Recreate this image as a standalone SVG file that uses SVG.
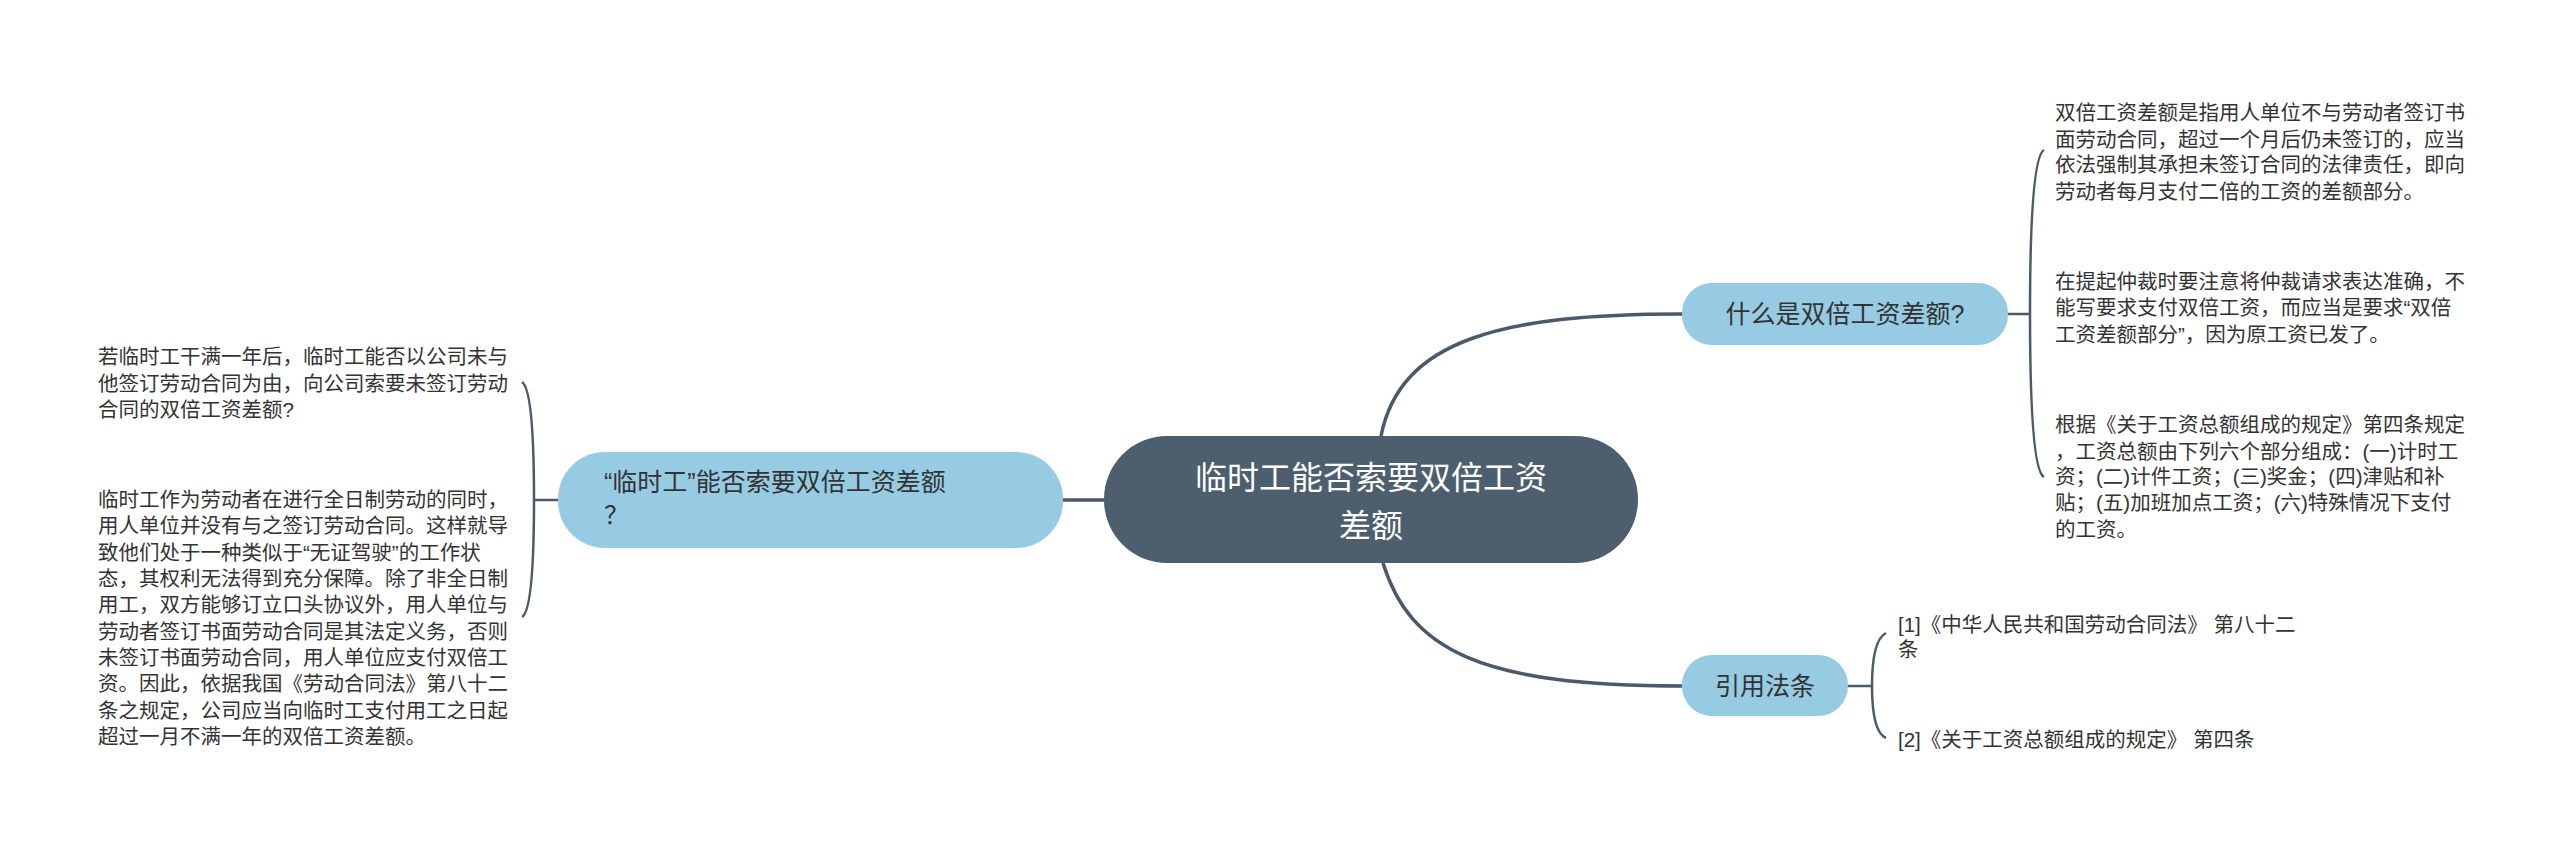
<svg xmlns="http://www.w3.org/2000/svg" width="2560" height="849" viewBox="0 0 2560 849">
<style>
.t{font-family:"Liberation Sans","Noto Sans CJK SC",sans-serif;font-size:20.5px;fill:#333}
.n{font-family:"Liberation Sans","Noto Sans CJK SC",sans-serif;font-size:25px;fill:#333}
.c{fill:none;stroke:#4b5a68;stroke-width:3.5}
.b{fill:none;stroke:#4b5a68;stroke-width:2.5}
.sub{fill:#96cbe3}
</style>
<rect width="2560" height="849" fill="#fff"/>
<g id="connectors">
<path class="c" d="M1104 500 H1062"/>
<path class="b" d="M558 500 H534 M534 500 Q534 390 522 382 M534 500 Q534 610 522 617"/>
<path class="c" d="M1381 436 C1400 340 1500 314 1682 314"/>
<path class="b" d="M2008 314 H2030 M2030 314 Q2030 158 2044 150 M2030 314 Q2030 470 2044 477"/>
<path class="c" d="M1383 563 C1410 650 1480 686 1682 686"/>
<path class="b" d="M1848 686 H1872 M1872 686 Q1872 640 1886 633 M1872 686 Q1872 732 1886 738"/>
</g>
<g id="root">
<rect x="1104" y="436" width="534" height="127" rx="63" fill="#4d5e6e"/>
<text x="1371" y="489" text-anchor="middle" style="font-family:'Liberation Sans','Noto Sans CJK SC',sans-serif;font-size:32px;fill:#fff">临时工能否索要双倍工资</text>
<text x="1371" y="537" text-anchor="middle" style="font-family:'Liberation Sans','Noto Sans CJK SC',sans-serif;font-size:32px;fill:#fff">差额</text>
</g>
<g id="left">
<rect class="sub" x="558" y="452" width="505" height="96" rx="47"/>
<text class="n" x="604" y="491">“临时工”能否索要双倍工资差额</text>
<text class="n" x="604" y="524">？</text>
</g>
<g id="left-t1">
<text class="t" x="98" y="364">若临时工干满一年后，临时工能否以公司未与</text>
<text class="t" x="98" y="391">他签订劳动合同为由，向公司索要未签订劳动</text>
<text class="t" x="98" y="417">合同的双倍工资差额?</text>
</g>
<g id="left-t2">
<text class="t" x="98" y="507">临时工作为劳动者在进行全日制劳动的同时，</text>
<text class="t" x="98" y="533">用人单位并没有与之签订劳动合同。这样就导</text>
<text class="t" x="98" y="560">致他们处于一种类似于“无证驾驶”的工作状</text>
<text class="t" x="98" y="586">态，其权利无法得到充分保障。除了非全日制</text>
<text class="t" x="98" y="612">用工，双方能够订立口头协议外，用人单位与</text>
<text class="t" x="98" y="639">劳动者签订书面劳动合同是其法定义务，否则</text>
<text class="t" x="98" y="665">未签订书面劳动合同，用人单位应支付双倍工</text>
<text class="t" x="98" y="691">资。因此，依据我国《劳动合同法》第八十二</text>
<text class="t" x="98" y="718">条之规定，公司应当向临时工支付用工之日起</text>
<text class="t" x="98" y="744">超过一月不满一年的双倍工资差额。</text>
</g>
<g id="right1">
<rect class="sub" x="1682" y="283" width="326" height="62" rx="30"/>
<text class="n" x="1845" y="323" text-anchor="middle">什么是双倍工资差额?</text>
</g>
<g id="right1-tA">
<text class="t" x="2055" y="120">双倍工资差额是指用人单位不与劳动者签订书</text>
<text class="t" x="2055" y="147">面劳动合同，超过一个月后仍未签订的，应当</text>
<text class="t" x="2055" y="172">依法强制其承担未签订合同的法律责任，即向</text>
<text class="t" x="2055" y="199">劳动者每月支付二倍的工资的差额部分。</text>
</g>
<g id="right1-tB">
<text class="t" x="2055" y="289">在提起仲裁时要注意将仲裁请求表达准确，不</text>
<text class="t" x="2055" y="315">能写要求支付双倍工资，而应当是要求“双倍</text>
<text class="t" x="2055" y="342">工资差额部分”，因为原工资已发了。</text>
</g>
<g id="right1-tC">
<text class="t" x="2055" y="432">根据《关于工资总额组成的规定》第四条规定</text>
<text class="t" x="2055" y="459">，工资总额由下列六个部分组成：(一)计时工</text>
<text class="t" x="2055" y="484">资；(二)计件工资；(三)奖金；(四)津贴和补</text>
<text class="t" x="2055" y="510">贴；(五)加班加点工资；(六)特殊情况下支付</text>
<text class="t" x="2055" y="537">的工资。</text>
</g>
<g id="right2">
<rect class="sub" x="1682" y="655" width="166" height="61" rx="30"/>
<text class="n" x="1765" y="695" text-anchor="middle">引用法条</text>
</g>
<g id="right2-t">
<text class="t" x="1898" y="632">[1]《中华人民共和国劳动合同法》 第八十二</text>
<text class="t" x="1898" y="657">条</text>
<text class="t" x="1898" y="747">[2]《关于工资总额组成的规定》 第四条</text>
</g>
</svg>
